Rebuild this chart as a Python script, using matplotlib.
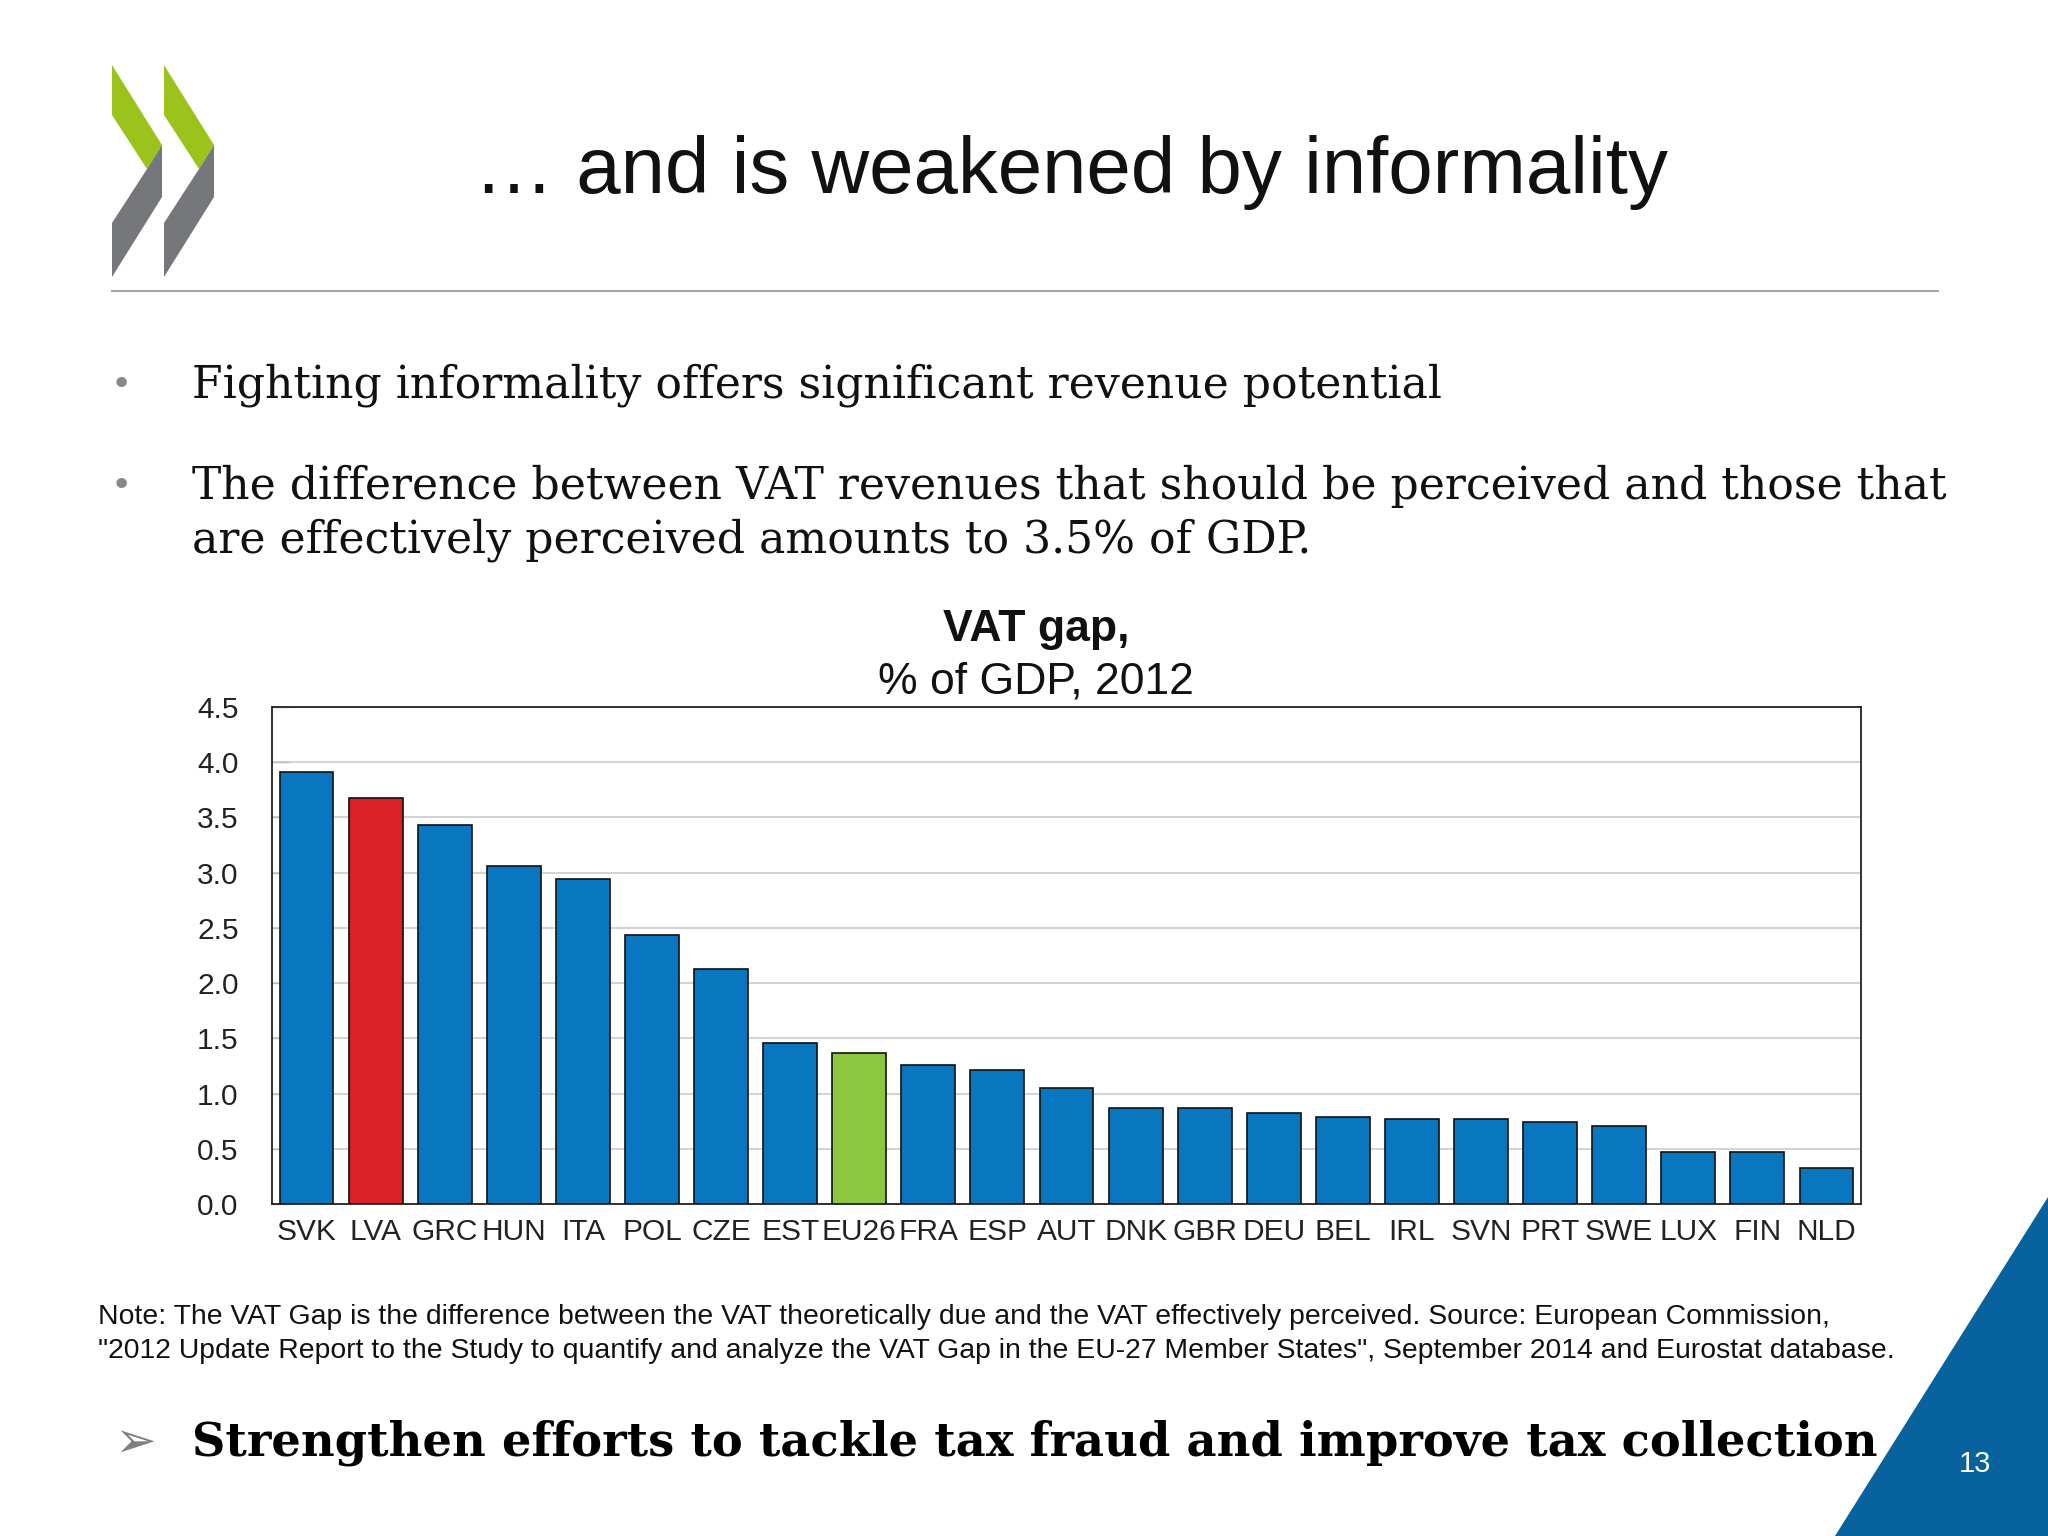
import matplotlib
matplotlib.use('Agg')
import matplotlib.pyplot as plt
from matplotlib.patches import Polygon
import numpy as np

countries = ['SVK', 'LVA', 'GRC', 'HUN', 'ITA', 'POL', 'CZE', 'EST', 'EU26', 'FRA', 'ESP', 'AUT',
             'DNK', 'GBR', 'DEU', 'BEL', 'IRL', 'SVN', 'PRT', 'SWE', 'LUX', 'FIN', 'NLD']
vat_gap = [3.91, 3.68, 3.43, 3.06, 2.94, 2.44, 2.13, 1.46, 1.37, 1.26, 1.21, 1.05,
           0.87, 0.87, 0.82, 0.79, 0.77, 0.77, 0.74, 0.71, 0.47, 0.47, 0.33]
highlight = {'LVA': '#DA2128', 'EU26': '#8DC63F'}
yticks = [0.0, 0.5, 1.0, 1.5, 2.0, 2.5, 3.0, 3.5, 4.0, 4.5]

W, H = 2048, 1536
fig = plt.figure(figsize=(W / 100, H / 100), dpi=100)
fig.patch.set_facecolor('white')

# background layer in pixel coordinates
bg = fig.add_axes([0, 0, 1, 1])
bg.set_xlim(0, W)
bg.set_ylim(H, 0)
bg.axis('off')

# logo chevrons
green = '#9BC31C'
grey = '#76777A'
for dx in [0, 52]:
    g = [(112 + dx, 65), (162 + dx, 145), (147 + dx, 169), (112 + dx, 115)]
    d = [(147 + dx, 169), (162 + dx, 145), (162 + dx, 197), (112 + dx, 277), (112 + dx, 223)]
    bg.add_patch(Polygon(g, closed=True, color=green, lw=0))
    bg.add_patch(Polygon(d, closed=True, color=grey, lw=0))

bg.text(1071, 172, '\u2026 and is weakened by informality', fontsize=57.5, family='Liberation Sans',
        ha='center', va='center', color='#111111')
bg.plot([112, 1938], [291, 291], color='#A6A6A6', lw=1.5)

serif = 'DejaVu Serif'
bsize = 31.8
bg.text(121, 385, '\u2022', fontsize=26, color='#888888', ha='center', va='center')
bg.text(192, 385, 'Fighting informality offers significant revenue potential', fontsize=bsize,
        family=serif, va='center', color='#111111')
bg.text(121, 486, '\u2022', fontsize=26, color='#888888', ha='center', va='center')
bg.text(192, 486, 'The difference between VAT revenues that should be perceived and those that',
        fontsize=bsize, family=serif, va='center', color='#111111')
bg.text(192, 540, 'are effectively perceived amounts to 3.5% of GDP.', fontsize=bsize,
        family=serif, va='center', color='#111111')

bg.text(1036, 630, 'VAT gap,', fontsize=32, family='Liberation Sans', weight='bold',
        ha='center', va='center', color='#111111')
bg.text(1036, 682, '% of GDP, 2012', fontsize=32, family='Liberation Sans',
        ha='center', va='center', color='#111111')

bg.text(98, 1317, 'Note: The VAT Gap is the difference between the VAT theoretically due and the VAT '
        'effectively perceived. Source: European Commission,', fontsize=20.4,
        family='Liberation Sans', va='center', color='#111111')
bg.text(98, 1351, '"2012 Update Report to the Study to quantify and analyze the VAT Gap in the EU-27 '
        'Member States", September 2014 and Eurostat database.', fontsize=20.4,
        family='Liberation Sans', va='center', color='#111111')

bg.text(135, 1443, '\u27a2', fontsize=36, family='DejaVu Sans', color='#7F7F7F', ha='center', va='center')
bg.text(192, 1443, 'Strengthen efforts to tackle tax fraud and improve tax collection', fontsize=33.4,
        family=serif, weight='bold', va='center', color='#000000')

bg.add_patch(Polygon([(2048, 1197), (1835, 1536), (2048, 1536)], closed=True, color='#08629E', lw=0))
bg.text(1975, 1464, '13', fontsize=21, family='Liberation Sans', color='white', ha='center', va='center')

# chart
ax = fig.add_axes([272 / W, 1 - 1204 / H, 1589 / W, (1204 - 707) / H])
x = np.arange(len(countries))
colors = [highlight.get(c, '#0877BF') for c in countries]
ax.bar(x, vat_gap, width=0.78, color=colors, edgecolor='#111111', linewidth=1.2, zorder=3)
ax.set_xlim(-0.5, len(countries) - 0.5)
ax.set_ylim(0, 4.5)
ax.set_yticks(yticks)
ax.set_yticklabels(['%.1f' % v for v in yticks])
ax.set_xticks(x)
ax.set_xticklabels(countries)
for lab in ax.get_xticklabels() + ax.get_yticklabels():
    lab.set_family('Liberation Sans')
    lab.set_fontsize(21.5)
    lab.set_color('#222222')
ax.tick_params(axis='x', length=0, pad=10)
ax.tick_params(axis='y', direction='in', length=12, width=1, color='#BBBBBB', pad=24)
ax.yaxis.grid(True, color='#D4D4D4', lw=1.5, zorder=0)
for s in ax.spines.values():
    s.set_color('#222222')
    s.set_linewidth(1.3)
ax.set_facecolor('white')

fig.savefig('out.png', dpi=100)
